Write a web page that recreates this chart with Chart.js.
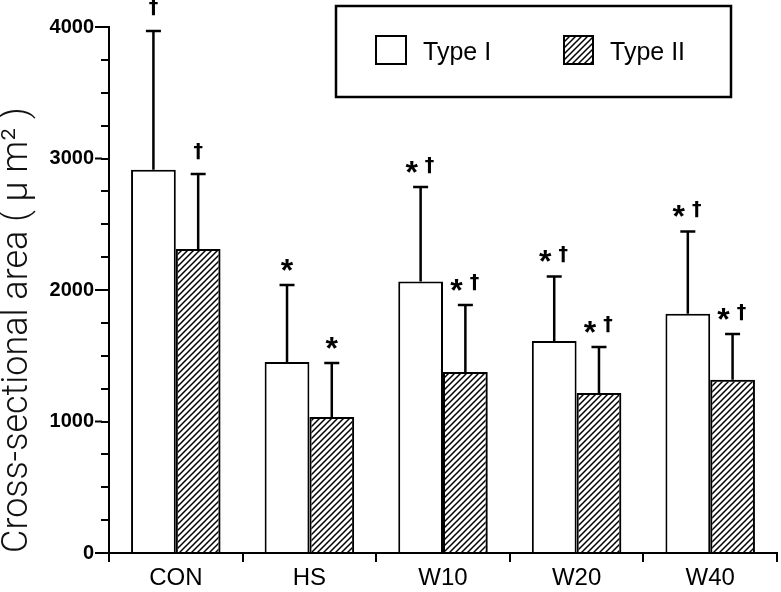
<!DOCTYPE html>
<html lang="en">
<head>
<meta charset="UTF-8">
<title>Cross-sectional area</title>
<script src="https://cdn.jsdelivr.net/npm/chart.js@4"></script>
<style>
    body { margin: 0; background: #fff; }
    #wrap { width: 781px; height: 592px; }
</style>
</head>
<body>
<div id="wrap"><canvas id="grafico" width="781" height="592"></canvas></div>
<script>
    // dados
    var categorias = ['CON', 'HS', 'W10', 'W20', 'W40'];
    var mediaTipo1 = [2915, 1452, 2065, 1612, 1820];
    var dpTipo1 = [1055, 586, 718, 491, 625];
    var mediaTipo2 = [2312, 1034, 1376, 1217, 1318];
    var dpTipo2 = [570, 411, 510, 350, 347];
    var marcasTipo1 = ['†', '*', '*†', '*†', '*†'];
    var marcasTipo2 = ['†', '*', '*†', '*†', '*†'];
    var nomesSeries = ['Type I', 'Type II'];
    var eixoY = { min: 0, max: 4000, passo: 250, rotulo: 1000 };

    // hachura ///
    function criarHachura() {
        var c = document.createElement('canvas');
        c.width = 6; c.height = 6;
        var g = c.getContext('2d');
        g.strokeStyle = '#000';
        g.lineWidth = 1.5;
        g.beginPath();
        g.moveTo(0, 6); g.lineTo(6, 0);
        g.moveTo(-1, 1); g.lineTo(1, -1);
        g.moveTo(5, 7); g.lineTo(7, 5);
        g.stroke();
        return document.getElementById('grafico').getContext('2d').createPattern(c, 'repeat');
    }
    var hachura = criarHachura();

    var fonteAsterisco = 'bold 32px "Liberation Sans", Arial';
    var fonteCruz = 'bold 19px "DejaVu Sans", sans-serif';

    var barrasDeErro = {
        id: 'barrasDeErro',
        afterDatasetsDraw: function (chart) {
            var ctx = chart.ctx;
            var y = chart.scales.y;
            ctx.save();
            ctx.strokeStyle = '#000';
            ctx.lineWidth = 2.5;
            chart.data.datasets.forEach(function (ds, i) {
                chart.getDatasetMeta(i).data.forEach(function (bar, j) {
                    var topo = y.getPixelForValue(ds.data[j] + ds.dp[j]);
                    ctx.beginPath();
                    ctx.moveTo(bar.x, bar.y);
                    ctx.lineTo(bar.x, topo);
                    ctx.moveTo(bar.x - 7.5, topo);
                    ctx.lineTo(bar.x + 7.5, topo);
                    ctx.stroke();

                    var m = ds.marcas[j];
                    var cy = topo - 20;
                    if (m === '*†') {
                        escreverCentro(ctx, '*', fonteAsterisco, bar.x - 9, cy);
                        escreverCentro(ctx, '†', fonteCruz, bar.x + 9, cy - 2);
                    } else if (m === '*') {
                        escreverCentro(ctx, '*', fonteAsterisco, bar.x, cy);
                    } else {
                        escreverCentro(ctx, '†', fonteCruz, bar.x, cy - 3);
                    }
                });
            });
            ctx.restore();
        }
    };

    function escreverCentro(ctx, texto, fonte, x, y) {
        ctx.font = fonte;
        ctx.fillStyle = '#000';
        ctx.textAlign = 'center';
        ctx.textBaseline = 'alphabetic';
        var m = ctx.measureText(texto);
        ctx.fillText(texto, x, y + (m.actualBoundingBoxAscent - m.actualBoundingBoxDescent) / 2);
    }

    var legendaCaixa = {
        id: 'legendaCaixa',
        afterDraw: function (chart) {
            var ctx = chart.ctx;
            ctx.save();
            ctx.fillStyle = '#fff';
            ctx.fillRect(336, 6, 395, 91);
            ctx.strokeStyle = '#000';
            ctx.lineWidth = 2.5;
            ctx.strokeRect(336, 6, 395, 91);

            ctx.lineWidth = 2;
            ctx.strokeRect(376, 36, 30, 28);
            ctx.fillStyle = hachura;
            ctx.fillRect(564, 36, 29, 28);
            ctx.strokeRect(564, 36, 29, 28);

            ctx.fillStyle = '#000';
            ctx.font = '25px "Liberation Sans", Arial';
            ctx.textAlign = 'left';
            ctx.textBaseline = 'alphabetic';
            ctx.fillText(nomesSeries[0], 423, 60);
            ctx.fillText(nomesSeries[1], 610, 60);

            // marcas maiores nos milhares
            var y = chart.scales.y;
            ctx.lineWidth = 2;
            for (var v = eixoY.min; v <= eixoY.max; v += eixoY.rotulo) {
                var py = y.getPixelForValue(v);
                ctx.beginPath();
                ctx.moveTo(95, py);
                ctx.lineTo(102, py);
                ctx.stroke();
            }
            ctx.restore();
        }
    };

    new Chart(document.getElementById('grafico').getContext('2d'), {
        type: 'bar',
        data: {
            labels: categorias,
            datasets: [{
                label: nomesSeries[0],
                data: mediaTipo1,
                dp: dpTipo1,
                marcas: marcasTipo1,
                backgroundColor: '#fff',
                borderColor: '#000',
                borderWidth: 2,
                borderSkipped: 'start'
            }, {
                label: nomesSeries[1],
                data: mediaTipo2,
                dp: dpTipo2,
                marcas: marcasTipo2,
                backgroundColor: hachura,
                borderColor: '#000',
                borderWidth: 2,
                borderSkipped: 'start'
            }]
        },
        options: {
            responsive: false,
            animation: false,
            categoryPercentage: 0.67,
            barPercentage: 1.0,
            layout: { padding: { top: 27, right: 4, left: 0, bottom: 0 } },
            plugins: {
                legend: { display: false },
                tooltip: { enabled: false }
            },
            scales: {
                x: {
                    afterFit: function (s) { s.height = 39; },
                    border: { display: true, color: '#000', width: 2 },
                    grid: { drawOnChartArea: false, color: '#000', lineWidth: 2, tickLength: 9 },
                    ticks: {
                        color: '#000',
                        padding: 2,
                        font: { family: '"Liberation Sans", Arial', size: 24 }
                    }
                },
                y: {
                    min: eixoY.min,
                    max: eixoY.max,
                    afterFit: function (s) { s.width = 109; },
                    border: { display: true, color: '#000', width: 2 },
                    grid: { drawOnChartArea: false, color: '#000', lineWidth: 2, tickLength: 8 },
                    ticks: {
                        stepSize: eixoY.passo,
                        autoSkip: false,
                        color: '#000',
                        padding: 7,
                        font: { family: '"Liberation Sans", Arial', size: 20, weight: 'bold' },
                        callback: function (v) { return v % eixoY.rotulo === 0 ? v : ''; }
                    },
                    title: {
                        display: true,
                        text: 'Cross-sectional area ( μ m² )',
                        align: 'start',
                        color: '#111',
                        padding: 0,
                        font: { family: 'Roboto', size: 36, weight: 300, lineHeight: 1 }
                    }
                }
            }
        },
        plugins: [barrasDeErro, legendaCaixa]
    });
</script>
</body>
</html>
